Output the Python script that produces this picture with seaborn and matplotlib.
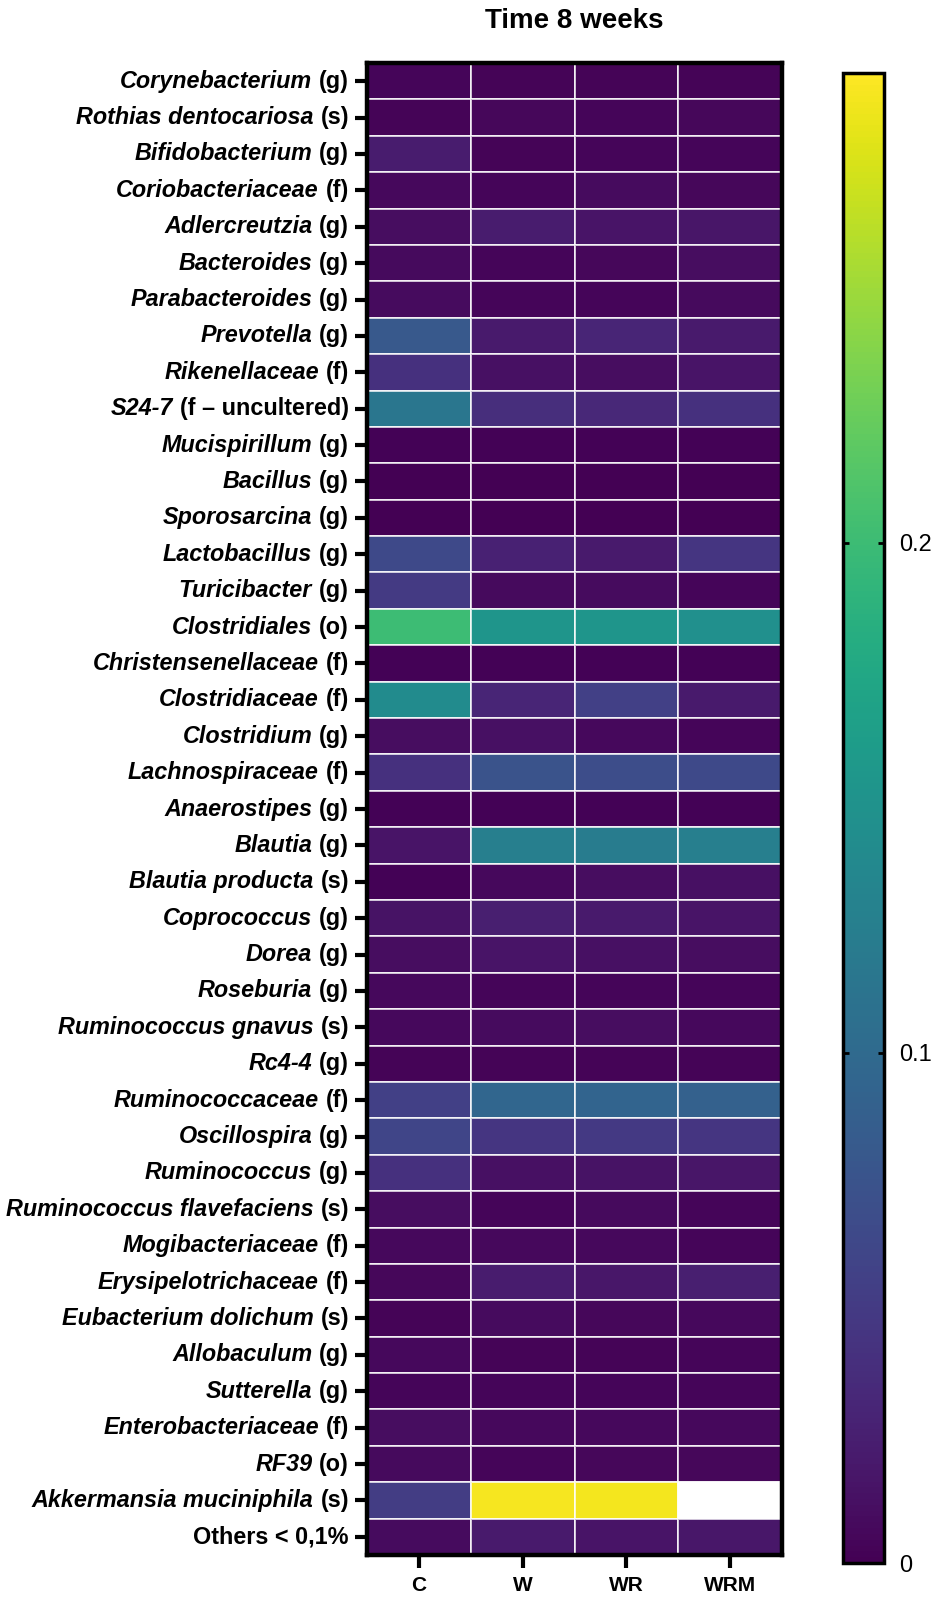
import numpy as np
import pandas as pd
import seaborn as sns
import matplotlib.pyplot as plt
from matplotlib.offsetbox import TextArea, HPacker, AnnotationBbox

plt.rcParams['font.family'] = ['Liberation Sans', 'DejaVu Sans']

# taxon names (italic part) and rank suffix (upright part)
taxa = ['Corynebacterium', 'Rothias dentocariosa', 'Bifidobacterium', 'Coriobacteriaceae',
        'Adlercreutzia', 'Bacteroides', 'Parabacteroides', 'Prevotella', 'Rikenellaceae',
        'S24-7', 'Mucispirillum', 'Bacillus', 'Sporosarcina', 'Lactobacillus', 'Turicibacter',
        'Clostridiales', 'Christensenellaceae', 'Clostridiaceae', 'Clostridium',
        'Lachnospiraceae', 'Anaerostipes', 'Blautia', 'Blautia producta', 'Coprococcus',
        'Dorea', 'Roseburia', 'Ruminococcus gnavus', 'Rc4-4', 'Ruminococcaceae',
        'Oscillospira', 'Ruminococcus', 'Ruminococcus flavefaciens', 'Mogibacteriaceae',
        'Erysipelotrichaceae', 'Eubacterium dolichum', 'Allobaculum', 'Sutterella',
        'Enterobacteriaceae', 'RF39', 'Akkermansia muciniphila', '']
ranks = ['(g)', '(s)', '(g)', '(f)', '(g)', '(g)', '(g)', '(g)', '(f)', '(f \u2013 uncultered)',
         '(g)', '(g)', '(g)', '(g)', '(g)', '(o)', '(f)', '(f)', '(g)', '(f)', '(g)', '(g)',
         '(s)', '(g)', '(g)', '(g)', '(s)', '(g)', '(f)', '(g)', '(g)', '(s)', '(f)', '(f)',
         '(s)', '(g)', '(g)', '(f)', '(o)', '(s)', 'Others < 0,1%']

groups = ['C', 'W', 'WR', 'WRM']

c_vals = [0.004, 0.003, 0.022, 0.006, 0.010, 0.007, 0.008, 0.080, 0.040, 0.115,
          0.002, 0.001, 0.001, 0.065, 0.050, 0.200, 0.002, 0.140, 0.010, 0.040,
          0.002, 0.015, 0.002, 0.014, 0.010, 0.006, 0.006, 0.003, 0.055, 0.060,
          0.040, 0.010, 0.006, 0.005, 0.003, 0.006, 0.004, 0.010, 0.007, 0.052, 0.008]
w_vals = [0.003, 0.005, 0.003, 0.004, 0.022, 0.004, 0.004, 0.020, 0.012, 0.038,
          0.002, 0.001, 0.001, 0.027, 0.007, 0.152, 0.002, 0.030, 0.012, 0.075,
          0.002, 0.125, 0.006, 0.024, 0.015, 0.004, 0.008, 0.003, 0.095, 0.045,
          0.012, 0.004, 0.006, 0.022, 0.009, 0.003, 0.004, 0.006, 0.004, 0.288, 0.020]
wr_vals = [0.003, 0.004, 0.004, 0.008, 0.015, 0.005, 0.004, 0.030, 0.010, 0.032,
           0.002, 0.001, 0.001, 0.020, 0.008, 0.152, 0.002, 0.055, 0.006, 0.068,
           0.002, 0.122, 0.010, 0.020, 0.012, 0.004, 0.010, 0.003, 0.093, 0.048,
           0.014, 0.007, 0.006, 0.018, 0.005, 0.003, 0.004, 0.006, 0.005, 0.287, 0.015]
wrm_vals = [0.003, 0.005, 0.004, 0.005, 0.017, 0.010, 0.007, 0.020, 0.015, 0.040,
            0.002, 0.001, 0.001, 0.045, 0.004, 0.145, 0.002, 0.020, 0.004, 0.065,
            0.002, 0.125, 0.012, 0.015, 0.010, 0.004, 0.006, 0.003, 0.090, 0.045,
            0.017, 0.004, 0.004, 0.025, 0.006, 0.004, 0.004, 0.006, 0.005, 0.350, 0.018]

df = pd.DataFrame({'C': c_vals, 'W': w_vals, 'WR': wr_vals, 'WRM': wrm_vals},
                  index=[f'{t} {r}'.strip() for t, r in zip(taxa, ranks)])

fig = plt.figure(figsize=(9.35, 15.99), dpi=100)
ax = fig.add_axes([0.3925, 0.0275, 0.4439, 0.9331])
cax = fig.add_axes([0.9016, 0.0225, 0.0439, 0.9318])

cmap = plt.get_cmap('viridis').copy()
cmap.set_over('white')

sns.heatmap(df, ax=ax, cbar_ax=cax, cmap=cmap, vmin=0, vmax=0.292,
            linewidths=1.2, linecolor=(1, 1, 1, 0.75))

# frame and ticks
for s in ax.spines.values():
    s.set_visible(True)
    s.set_linewidth(3.2)
    s.set_color('black')
ax.tick_params(axis='both', length=9, width=3, color='black')
ax.set_yticklabels([])
ax.set_xticklabels(groups, rotation=0, fontsize=15, fontweight='bold')
ax.tick_params(axis='x', pad=6)
ax.set_ylabel('')
ax.set_xlabel('')
ax.set_title('Time 8 weeks', fontsize=20, fontweight='bold', pad=25)

# row labels: italic taxon + upright rank
for i, (t, r) in enumerate(zip(taxa, ranks)):
    kids = []
    if t:
        kids.append(TextArea(t, textprops=dict(fontsize=16.8, fontweight='bold', style='italic')))
    kids.append(TextArea(r, textprops=dict(fontsize=16.8, fontweight='bold')))
    box = HPacker(children=kids, align='baseline', pad=0, sep=5)
    ab = AnnotationBbox(box, (0, i + 0.5), xycoords=('axes fraction', 'data'),
                        xybox=(-13, 0), boxcoords='offset points',
                        box_alignment=(1, 0.5), frameon=False, annotation_clip=False)
    ax.add_artist(ab)

# colorbar
cbar = ax.collections[0].colorbar
cbar.set_ticks([0, 0.1, 0.2])
cbar.set_ticklabels(['0', '0.1', '0.2'])
cbar.outline.set_linewidth(2.5)
cbar.outline.set_edgecolor('black')
cax.tick_params(direction='in', left=True, right=True, length=4, width=2,
                labelsize=17, pad=11)

fig.savefig('out.png', dpi=100)
